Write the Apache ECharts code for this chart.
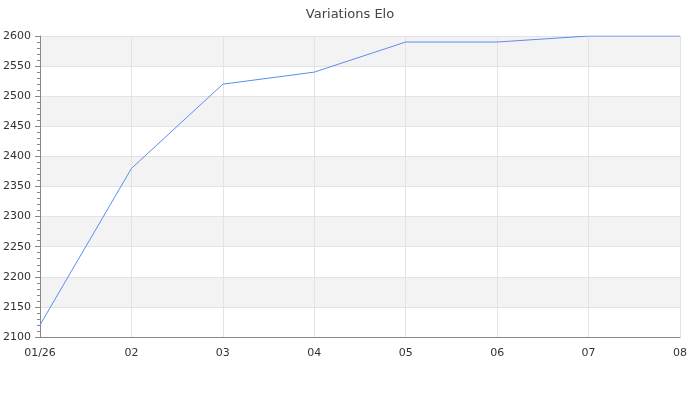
<!DOCTYPE html>
<html><head><meta charset="utf-8">
<script src="https://cdn.jsdelivr.net/npm/echarts@6/dist/echarts.min.js"></script>
<style>html,body{margin:0;padding:0;background:#fff}#c{width:700px;height:400px}</style>
</head><body><div id="c"></div>
<script>
var categories = ['01/26','02','03','04','05','06','07','08'];
var eloValues = [2120, 2380, 2520, 2540, 2590, 2590, 2600, 2600];
var yMin = 2100, yMax = 2600, yStep = 50;

var chart = echarts.init(document.getElementById('c'));
chart.setOption({
  animation: false,
  title: {text: 'Variations Elo', left: 'center', top: 3,
    textStyle: {fontFamily: 'DejaVu Sans', fontSize: 13, fontWeight: 'normal', color: '#444'}},
  grid: {left: 40, right: 20, top: 36, bottom: 63},
  xAxis: {type: 'category', data: categories, boundaryGap: false,
    axisLine: {lineStyle: {color: '#888'}}, axisTick: {show: false},
    axisLabel: {fontFamily: 'DejaVu Sans', fontSize: 11, color: '#333', margin: 11},
    splitLine: {show: true, lineStyle: {color: '#e3e3e3'}}},
  yAxis: {type: 'value', min: yMin, max: yMax, interval: yStep,
    axisLine: {show: true, lineStyle: {color: '#888'}},
    axisTick: {show: true, length: 5, lineStyle: {color: '#888'}},
    minorTick: {show: true, splitNumber: 5, length: 3, lineStyle: {color: '#888'}},
    axisLabel: {fontFamily: 'DejaVu Sans', fontSize: 11, color: '#333', margin: 9,
      formatter: function(v){ return String(v); }},
    splitLine: {show: true, lineStyle: {color: '#e3e3e3'}},
    splitArea: {show: true, areaStyle: {color: ['#ffffff', '#f3f3f3']}}},
  series: [{type: 'line', data: eloValues, symbol: 'none',
    lineStyle: {color: '#5b8def', width: 1}}]
});
</script></body></html>
